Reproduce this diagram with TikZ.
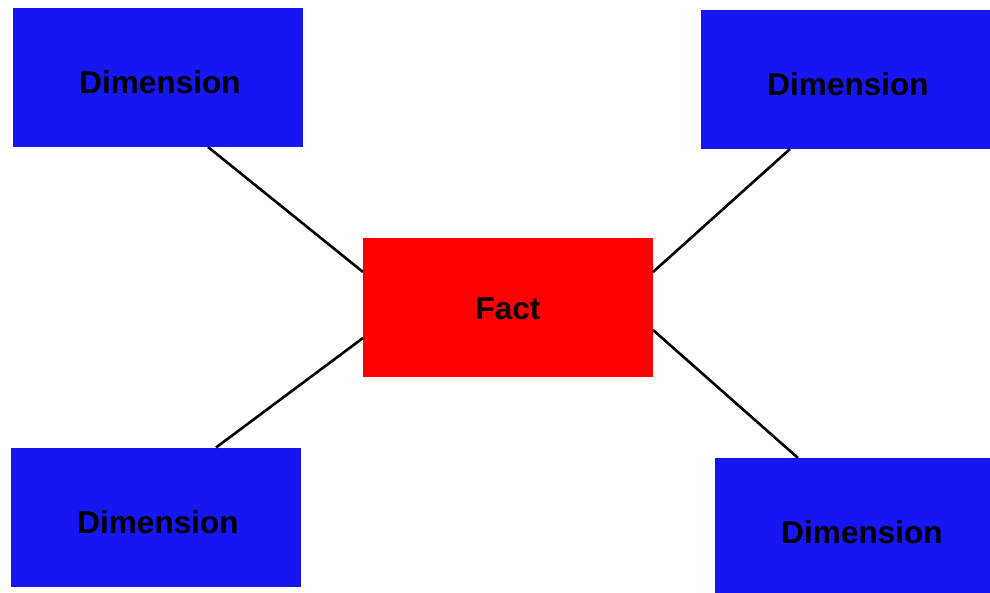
\documentclass[tikz,border=0pt]{standalone}
\usepackage{fontspec}
\setmainfont{Liberation Sans}
\usetikzlibrary{calc}
\definecolor{dimblue}{RGB}{22,22,242}
\definecolor{factred}{RGB}{255,0,0}
\tikzset{
  x=1pt, y=-1pt,
  entity/.style={draw=none, minimum width=290pt, minimum height=139pt,
                 inner sep=0pt, outer sep=0pt},
  dimbox/.style={entity, fill=dimblue},
  factbox/.style={entity, fill=factred},
  lbl/.style={font=\fontsize{31.5}{36}\selectfont\bfseries, inner sep=0pt, text=black},
  link/.style={draw=black, line width=2.6pt}
}
\begin{document}
\begin{tikzpicture}
  \useasboundingbox (0,0) rectangle (990,593);
  \begin{scope}
    \clip (0,0) rectangle (990,593);
    % entity boxes
    \node[dimbox]  (tl)   at (158,77.5)  {};
    \node[dimbox]  (tr)   at (846,79.5)  {};
    \node[factbox] (fact) at (508,307.5) {};
    \node[dimbox]  (bl)   at (156,517)   {};
    \node[dimbox]  (br)   at (860,527.5) {};

    % box labels
    \node[lbl] (tlt)   at ([shift={(2,5)}]tl.center)   {Dimension};
    \node[lbl] (trt)   at ([shift={(2,5)}]tr.center)   {Dimension};
    \node[lbl] (factt) at ([shift={(0,1.5)}]fact.center) {Fact};
    \node[lbl] (blt)   at ([shift={(2,5)}]bl.center)   {Dimension};
    \node[lbl] (brt)   at ([shift={(2,5)}]br.center)   {Dimension};

    % connectors from each dimension to the fact
    \draw[link] ($(tl.south west)+(195,0)$) -- ($(fact.north west)+(0,34)$);
    \draw[link] ($(tr.south west)+(89,0)$)  -- ($(fact.north east)+(0,34)$);
    \draw[link] ($(bl.north west)+(205,0)$) -- ($(fact.north west)+(0,100)$);
    \draw[link] ($(br.north west)+(83,0)$)  -- ($(fact.north east)+(0,92)$);
  \end{scope}
\end{tikzpicture}
\end{document}
